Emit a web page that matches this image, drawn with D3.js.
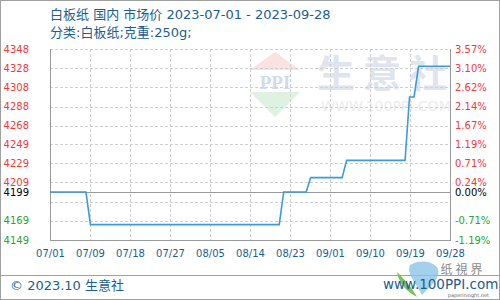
<!DOCTYPE html>
<html>
<head>
<meta charset="utf-8">
<script src="https://cdn.jsdelivr.net/npm/d3@7"></script>
<style>
  body { margin: 0; background: #fff; }
  svg { display: block; font-family: "DejaVu Sans", "Noto Sans CJK SC", sans-serif; }
</style>
</head>
<body>
<script>
(function() {
    "use strict";

    //price series (CNY/t), only the days where the level changes
    var dates = ["2023-07-01", "2023-07-09", "2023-07-10", "2023-08-21", "2023-08-22",
                 "2023-08-27", "2023-08-28", "2023-09-04", "2023-09-05", "2023-09-18",
                 "2023-09-19", "2023-09-20", "2023-09-21", "2023-09-28"];
    var prices = [4199, 4199, 4165, 4165, 4199, 4199, 4214, 4214, 4232, 4232, 4298, 4298, 4330, 4330];

    //axis labels
    var xTickLabels = ["07/01", "07/09", "07/18", "07/27", "08/05", "08/14", "08/23", "09/01", "09/10", "09/19", "09/28"];
    var yTickValues = [4149, 4169, 4189, 4209, 4229, 4249, 4268, 4288, 4308, 4328, 4348];
    var yTickLabels = ["4149", "4169", "", "4209", "4229", "4249", "4268", "4288", "4308", "4328", "4348"];
    var pctTickLabels = ["-1.19%", "-0.71%", "", "0.24%", "0.71%", "1.19%", "1.67%", "2.14%", "2.62%", "3.10%", "3.57%"];
    var basePrice = 4199;
    var basePct = "0.00%";

    var W = 500, H = 300;
    var LEFT = 50, RIGHT = 450, TOP = 49, BOTTOM = 240;
    var RED = "#f03a3a", GREEN = "#2aa52a", BLUE_TEXT = "#1b5e8e";

    var parse = d3.timeParse("%Y-%m-%d");
    var data = dates.map(function(d, i) { return { date: parse(d), price: prices[i] }; });

    var x = d3.scaleTime()
        .domain([parse(dates[0]), parse(dates[dates.length - 1])])
        .range([LEFT, RIGHT]);
    var xLabel = d3.scalePoint().domain(xTickLabels).range([LEFT, RIGHT]);
    var y = d3.scaleLinear().domain([4149, 4348]).range([BOTTOM, TOP]);

    var svg = d3.select("body").append("svg")
        .attr("width", W)
        .attr("height", H);

    //outer frame and footer separator
    svg.append("rect")
        .attr("x", 0.5).attr("y", 0.5)
        .attr("width", W - 1).attr("height", H - 1)
        .attr("fill", "#fff").attr("stroke", "#a0a0a0");
    svg.append("line")
        .attr("x1", 0).attr("x2", W).attr("y1", 275.5).attr("y2", 275.5)
        .attr("stroke", "#a0a0a0");

    //watermark: PPI diamond, 生意社, url
    var wm = svg.append("g").attr("transform", "translate(275,84)");
    wm.append("path").attr("d", "M0,-32L25,-14H-25Z").attr("fill", "#fbe2e2");
    wm.append("path").attr("d", "M-25,8H25L0,33Z").attr("fill", "#dff2e2");
    wm.append("text").attr("text-anchor", "middle").attr("y", 5)
        .attr("font-family", "Liberation Serif, serif").attr("font-weight", "bold")
        .attr("font-size", 19).attr("fill", "#d3daeb").text("PPI");
    svg.append("text").attr("x", 386).attr("y", 87).attr("text-anchor", "middle")
        .attr("font-size", 38).attr("font-weight", "bold").attr("fill", "#dfe4ef")
        .attr("letter-spacing", 8).text("生意社");
    svg.append("text").attr("x", 386).attr("y", 111).attr("text-anchor", "middle")
        .attr("font-size", 14).attr("fill", "#ececec").text("WWW.100PPI.COM");

    //dashed grid
    var grid = svg.append("g").attr("stroke", "#cfcfcf").attr("stroke-dasharray", "3,2")
        .attr("shape-rendering", "crispEdges");
    grid.selectAll("line.h")
        .data(yTickValues)
        .enter()
        .append("line")
        .attr("x1", LEFT).attr("x2", RIGHT)
        .attr("y1", function(d) { return Math.round(y(d)) + 0.5; })
        .attr("y2", function(d) { return Math.round(y(d)) + 0.5; });
    grid.selectAll("line.v")
        .data(xTickLabels.slice(1))
        .enter()
        .append("line")
        .attr("y1", TOP).attr("y2", BOTTOM)
        .attr("x1", function(d) { return xLabel(d) + 0.5; })
        .attr("x2", function(d) { return xLabel(d) + 0.5; });

    //plot frame (left, bottom, right) and base-price line
    var frame = svg.append("g").attr("stroke", "#9a9a9a").attr("fill", "none")
        .attr("shape-rendering", "crispEdges");
    frame.append("path")
        .attr("d", "M" + (LEFT + 0.5) + "," + TOP + "V" + (BOTTOM + 0.5) + "H" + (RIGHT + 0.5) + "V" + TOP);
    frame.append("line")
        .attr("x1", LEFT).attr("x2", RIGHT)
        .attr("y1", Math.round(y(basePrice)) + 0.5)
        .attr("y2", Math.round(y(basePrice)) + 0.5);

    //price line
    var line = d3.line()
        .x(function(d) { return x(d.date); })
        .y(function(d) { return y(d.price); });
    svg.append("path")
        .datum(data)
        .attr("d", line)
        .attr("fill", "none")
        .attr("stroke", "#3b9bdb")
        .attr("stroke-width", 1.6);

    function tickColor(v) {
        return v > basePrice ? RED : (v < basePrice ? GREEN : "#000");
    }

    //left axis labels
    var leftAxis = svg.append("g").attr("font-size", 10).attr("text-anchor", "end");
    leftAxis.selectAll("text")
        .data(yTickValues)
        .enter()
        .append("text")
        .attr("x", 29)
        .attr("y", function(d) { return y(d); })
        .attr("dy", "0.35em")
        .attr("fill", tickColor)
        .text(function(d, i) { return yTickLabels[i]; });
    leftAxis.append("text")
        .attr("x", 29).attr("y", y(basePrice)).attr("dy", "0.35em")
        .attr("fill", "#000").text(String(basePrice));

    //right axis labels (change vs base price)
    var rightAxis = svg.append("g").attr("font-size", 10).attr("text-anchor", "start");
    rightAxis.selectAll("text")
        .data(yTickValues)
        .enter()
        .append("text")
        .attr("x", 455)
        .attr("y", function(d) { return y(d); })
        .attr("dy", "0.35em")
        .attr("fill", tickColor)
        .text(function(d, i) { return pctTickLabels[i]; });
    rightAxis.append("text")
        .attr("x", 455).attr("y", y(basePrice)).attr("dy", "0.35em")
        .attr("fill", "#000").text(basePct);

    //x axis labels
    var xAxis = d3.axisBottom(xLabel).tickSize(0).tickPadding(0);
    var xg = svg.append("g")
        .attr("transform", "translate(0," + 250 + ")")
        .call(xAxis);
    xg.select(".domain").remove();
    xg.selectAll("text")
        .attr("font-family", "DejaVu Sans, sans-serif")
        .attr("font-size", 10)
        .attr("fill", BLUE_TEXT);

    //titles
    svg.append("text").attr("x", 50).attr("y", 19)
        .attr("font-size", 13).attr("fill", BLUE_TEXT)
        .text("白板纸 国内 市场价 2023-07-01 - 2023-09-28");
    svg.append("text").attr("x", 50).attr("y", 37)
        .attr("font-size", 13).attr("fill", BLUE_TEXT)
        .text("分类:白板纸;克重:250g;");

    //footer
    svg.append("text").attr("x", 10).attr("y", 290)
        .attr("font-size", 13).attr("fill", BLUE_TEXT)
        .text("© 2023.10 生意社");

    var logo = svg.append("g");
    logo.append("path")
        .attr("d", "M410,265c10,-6 24,-4 28,4c3,8 -6,16 -16,26c-4,-10 -16,-20 -12,-30z")
        .attr("fill", "#8cc4e8").attr("opacity", 0.8);
    logo.append("path")
        .attr("d", "M397,272c6,6 14,14 20,25c-8,-4 -18,-12 -20,-25z")
        .attr("fill", "#7cc05a");
    logo.append("text").attr("x", 463).attr("y", 274).attr("text-anchor", "middle")
        .attr("font-size", 12).attr("fill", "#8a8a8a").attr("letter-spacing", 3)
        .text("纸視界");
    logo.append("text").attr("x", 383).attr("y", 289)
        .attr("font-size", 13.5).attr("fill", "#1b5e8e")
        .text("www.100PPI.com");
    logo.append("text").attr("x", 489).attr("y", 297).attr("text-anchor", "end")
        .attr("font-size", 5).attr("fill", "#666")
        .text("paperinsight.net");
}());
</script>
</body>
</html>
